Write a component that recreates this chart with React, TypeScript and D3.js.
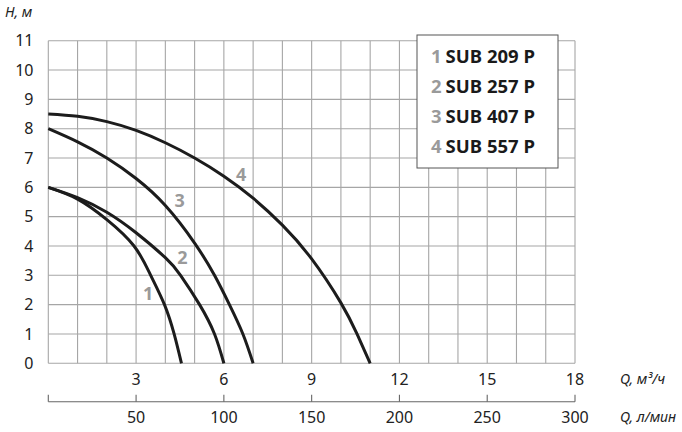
import React from 'react';
import * as d3 from 'd3';

// Pump curves: Q in m³/h, H in m
const curve1 = [[0, 6], [1, 5.6], [2, 4.9], [2.93, 4], [3.5, 3], [3.97, 2], [4.3, 1], [4.55, 0]];
const curve2 = [[0, 6], [1, 5.65], [2, 5.15], [3, 4.45], [4, 3.6], [4.52, 3], [5.17, 2], [5.68, 1], [6.0, 0]];
const curve3 = [[0, 8], [1, 7.55], [2, 7.0], [3, 6.3], [4, 5.38], [5, 4.1], [5.68, 3], [6.19, 2], [6.65, 1], [7.0, 0]];
const curve4 = [[0, 8.5], [1, 8.42], [2, 8.24], [3, 7.94], [4, 7.52], [5, 7.0], [6, 6.38], [7, 5.63], [8, 4.71], [9, 3.56], [10, 2.06], [10.55, 1], [11, 0]];

const curves = [curve1, curve2, curve3, curve4];
const curveLabels = ['1', '2', '3', '4'];
const labelPos = [[3.41, 2.38], [4.58, 3.6], [4.49, 5.56], [6.59, 6.45]];
const models = ['SUB 209 P', 'SUB 257 P', 'SUB 407 P', 'SUB 557 P'];

const qTicks = [3, 6, 9, 12, 15, 18];
const lminTicks = [0, 50, 100, 150, 200, 250, 300];
const hTicks = d3.range(0, 12);

const W = 682;
const H = 432;
const FONT = '"Noto Sans", "Open Sans", sans-serif';

export default function App() {
  const x = d3.scaleLinear().domain([0, 18]).range([48.3, 575]);
  const y = d3.scaleLinear().domain([0, 11]).range([363.3, 40.7]);
  // л/мин axis shares the same pixels: 300 л/мин = 18 м³/ч
  const x2 = d3.scaleLinear().domain([0, 300]).range(x.range());

  const line = d3.line<number[]>()
    .x(d => x(d[0]))
    .y(d => y(d[1]))
    .curve(d3.curveNatural);

  const axisY = 401.7;
  const gridColor = '#a6a6a6';

  return (
    <svg width={W} height={H} style={{ position: 'absolute', left: 0, top: 0, background: '#fff' }}
      fontFamily={FONT}>
      {/* grid */}
      <g stroke={gridColor} strokeWidth={1.1}>
        {d3.range(0, 19).map(q => (
          <line key={'v' + q} x1={x(q)} x2={x(q)} y1={y(0)} y2={y(11)} />
        ))}
        {hTicks.map(h => (
          <line key={'h' + h} x1={x(0)} x2={x(18)} y1={y(h)} y2={y(h)} />
        ))}
      </g>

      {/* curves */}
      <g fill="none" stroke="#1c1c1c" strokeWidth={3}>
        {curves.map((c, i) => <path key={i} d={line(c as number[][]) || ''} />)}
      </g>
      <g fill="#9a9a9a" fontWeight="bold" fontSize={18} textAnchor="middle">
        {labelPos.map((p, i) => (
          <text key={i} x={x(p[0])} y={y(p[1])} dy="0.36em">{curveLabels[i]}</text>
        ))}
      </g>

      {/* legend */}
      <rect x={417} y={35} width={141} height={133} fill="#fff" stroke="#555" strokeWidth={1} />
      {models.map((m, i) => (
        <text key={i} x={431} y={56 + i * 30} dy="0.36em" fontSize={18.5} fontWeight="bold">
          <tspan fill="#9a9a9a">{curveLabels[i]}</tspan>
          <tspan fill="#1a1a1a" dx={4}>{m}</tspan>
        </text>
      ))}

      {/* H axis labels */}
      <g fontSize={16} fill="#222" textAnchor="end">
        {hTicks.map(h => (
          <text key={h} x={33.5} y={y(h)} dy="0.36em">{h}</text>
        ))}
      </g>
      <text x={5} y={17} fontSize={14} fontStyle="italic" fill="#222">H, м</text>

      {/* Q m³/h labels */}
      <g fontSize={16} fill="#222" textAnchor="middle">
        {qTicks.map(q => (
          <text key={q} x={x(q)} y={379} dy="0.36em">{q}</text>
        ))}
      </g>
      <text x={620} y={379} dy="0.36em" fontSize={14} fontStyle="italic" fill="#222">Q, м³/ч</text>

      {/* Q l/min axis */}
      <g stroke="#666" strokeWidth={1.1}>
        <line x1={x2(0)} x2={x2(300)} y1={axisY} y2={axisY} />
        {lminTicks.map(t => (
          <line key={t} x1={x2(t)} x2={x2(t)} y1={axisY - 7} y2={axisY} />
        ))}
      </g>
      <g fontSize={16} fill="#222" textAnchor="middle">
        {lminTicks.filter(t => t > 0).map(t => (
          <text key={t} x={x2(t)} y={417} dy="0.36em">{t}</text>
        ))}
      </g>
      <text x={620} y={417} dy="0.36em" fontSize={14} fontStyle="italic" fill="#222">Q, л/мин</text>
    </svg>
  );
}
